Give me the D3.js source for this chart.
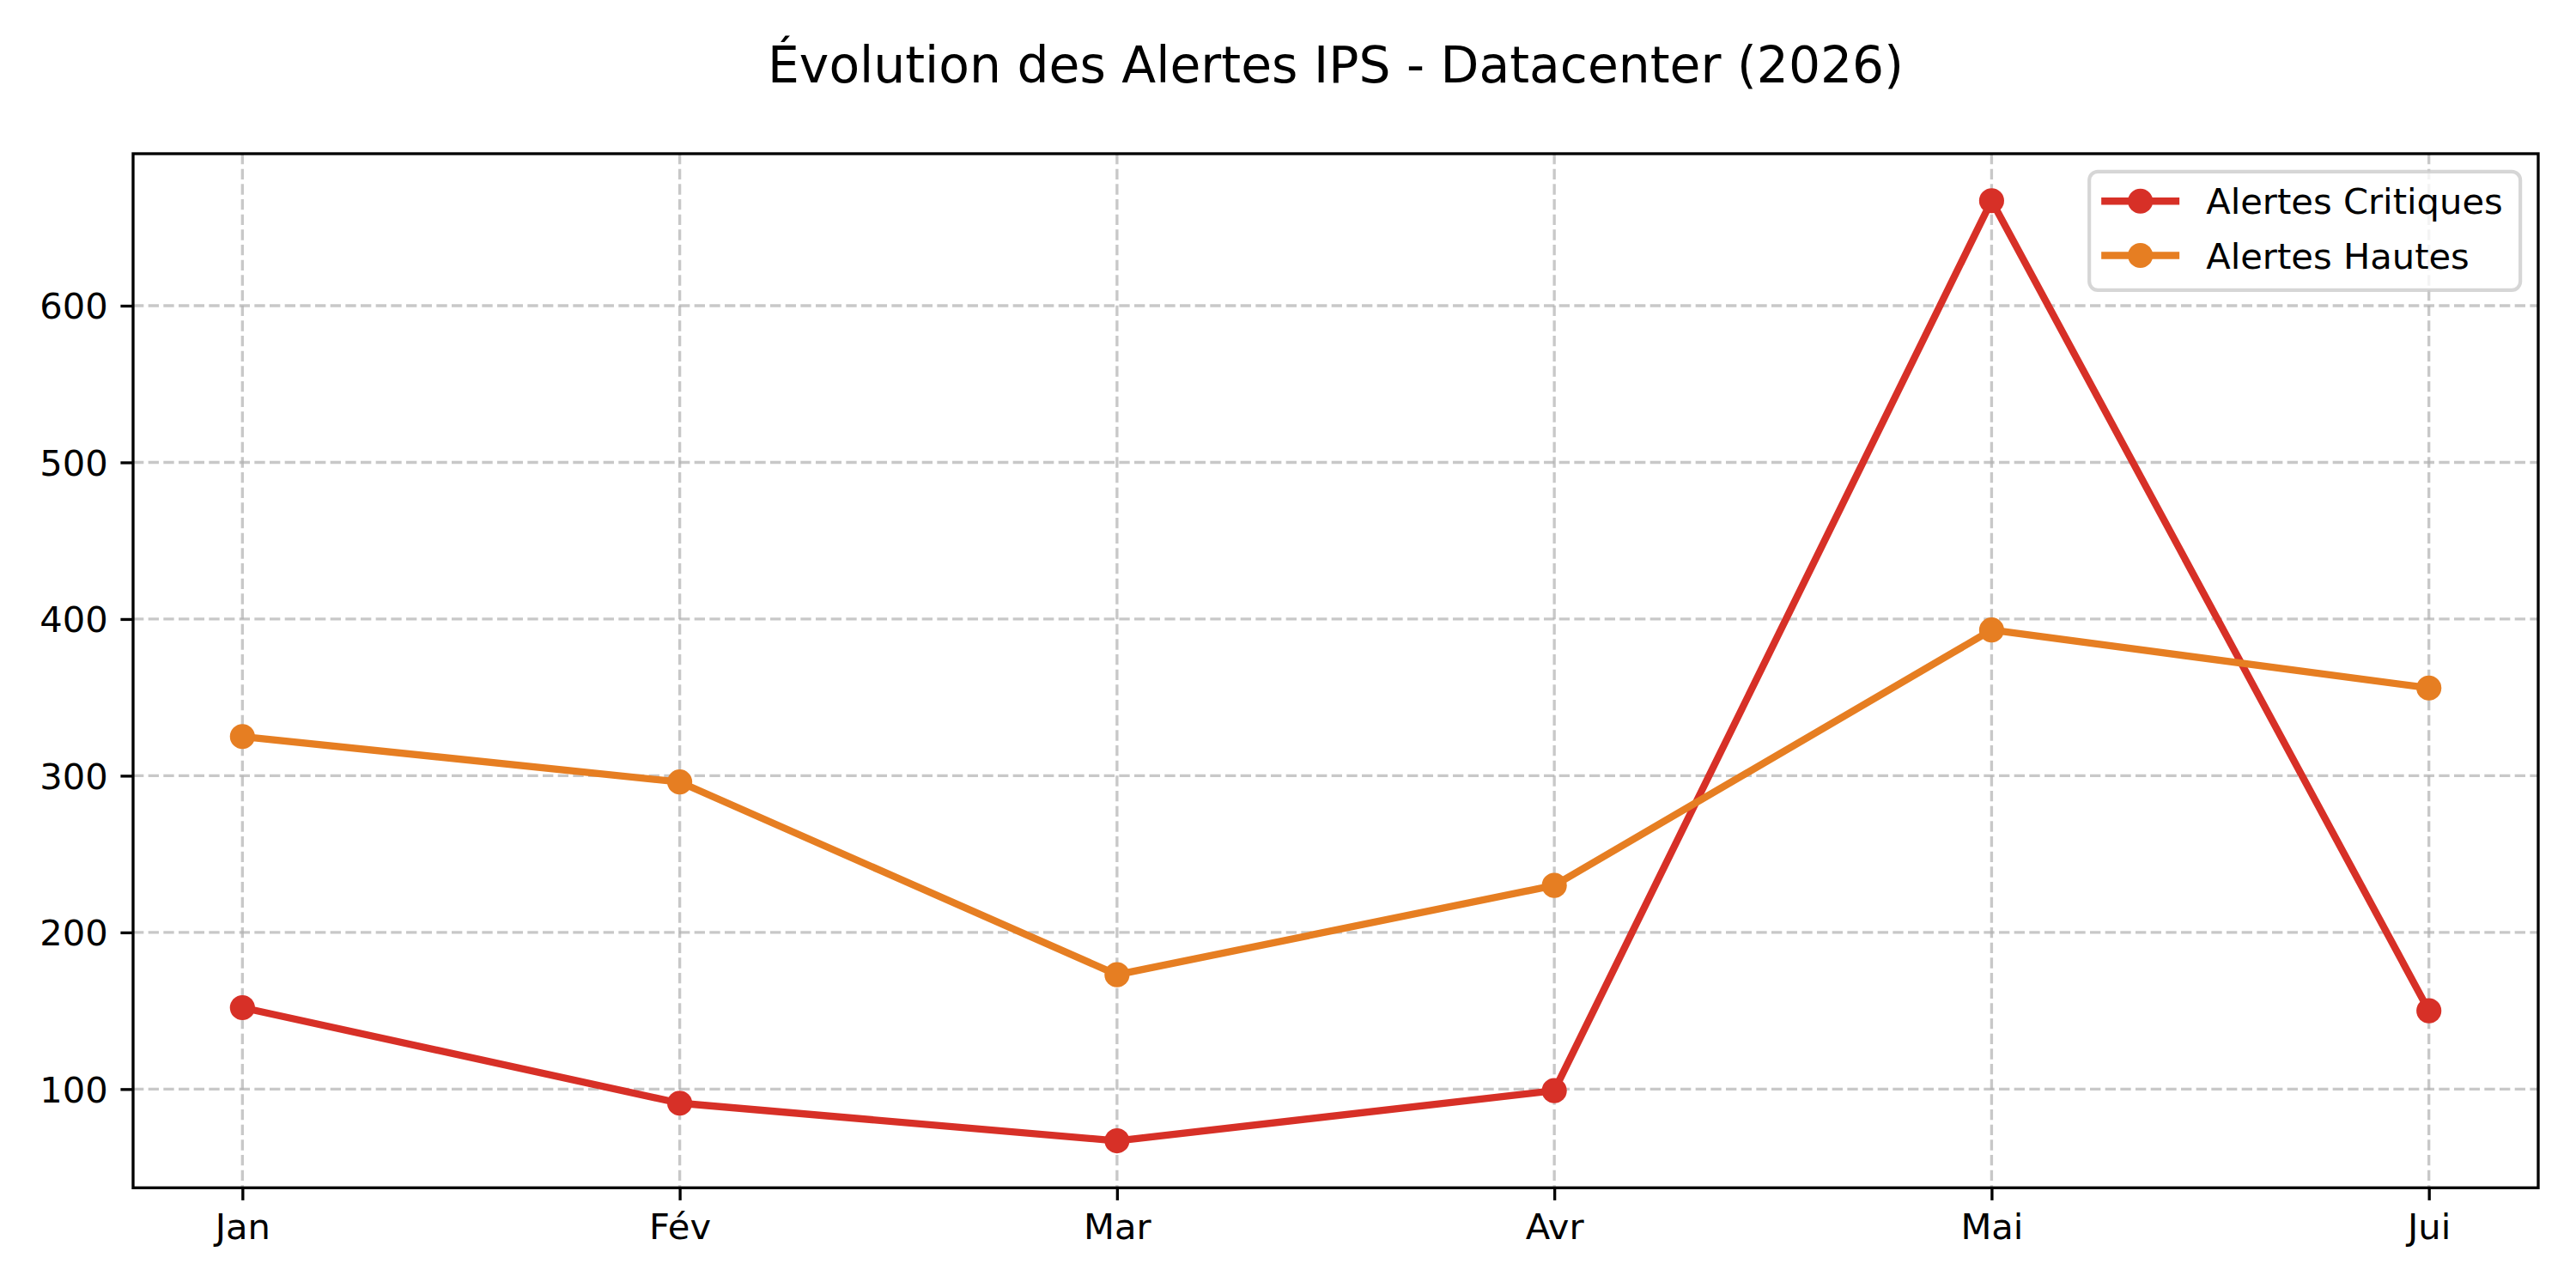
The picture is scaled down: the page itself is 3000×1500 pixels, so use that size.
<!DOCTYPE html>
<html>
<head>
<meta charset="utf-8">
<script src="https://cdn.jsdelivr.net/npm/d3@7"></script>
<style>
  body { margin: 0; background: #fff; }
  svg { display: block; font-family: "DejaVu Sans", sans-serif; }
</style>
</head>
<body>
<svg id="chart" width="3000" height="1500"></svg>
<script>
// data
const months = ["Jan", "Fév", "Mar", "Avr", "Mai", "Jui"];
const critiques = [152, 91, 67, 99, 667, 150];
const hautes = [325, 296, 173, 230, 393, 356];
const yTicks = [100, 200, 300, 400, 500, 600];
const seriesNames = ["Alertes Critiques", "Alertes Hautes"];
const seriesColors = ["#d73027", "#e67e22"];

const pt = 300 / 72; // figure drawn at 300 dpi
const svg = d3.select('#chart');
const plotLeft = 155, plotRight = 2956, plotTop = 179, plotBottom = 1383.3;

const x = d3.scalePoint()
    .domain(months)
    .range([plotLeft, plotRight])
    .padding(0.25);

const all = critiques.concat(hautes);
const lo = d3.min(all), hi = d3.max(all);
const pad = (hi - lo) * 0.05;
const y = d3.scaleLinear()
    .domain([lo - pad, hi + pad])
    .range([plotBottom, plotTop]);

// title
svg.append("text")
    .attr("x", (plotLeft + plotRight) / 2)
    .attr("y", plotTop - 20 * pt)
    .attr("text-anchor", "middle")
    .style("font-size", (14 * pt) + "px")
    .text("Évolution des Alertes IPS - Datacenter (2026)");

// grid
const grid = svg.append("g")
    .attr("stroke", "#b0b0b0")
    .attr("stroke-opacity", 0.7)
    .attr("stroke-width", 0.8 * pt)
    .attr("stroke-dasharray", `${3.7 * 0.8 * pt} ${1.6 * 0.8 * pt}`);
grid.selectAll("line.v")
    .data(months)
    .join("line")
    .attr("class", "v")
    .attr("x1", d => x(d)).attr("x2", d => x(d))
    .attr("y1", plotTop).attr("y2", plotBottom);
grid.selectAll("line.h")
    .data(yTicks)
    .join("line")
    .attr("class", "h")
    .attr("x1", plotLeft).attr("x2", plotRight)
    .attr("y1", d => y(d)).attr("y2", d => y(d));

// axes
const xAxis = svg.append("g")
    .attr("transform", `translate(0,${plotBottom})`)
    .call(d3.axisBottom(x).tickSize(3.5 * pt).tickSizeOuter(0).tickPadding(15.4));
const yAxis = svg.append("g")
    .attr("transform", `translate(${plotLeft},0)`)
    .call(d3.axisLeft(y).tickValues(yTicks).tickSize(3.5 * pt).tickSizeOuter(0).tickPadding(3.5 * pt));
[xAxis, yAxis].forEach(a => {
    a.select(".domain").remove();
    a.selectAll(".tick line").attr("stroke", "#000").attr("stroke-width", 0.8 * pt);
    a.selectAll(".tick text")
        .attr("fill", "#000")
        .style("font-family", "DejaVu Sans")
        .style("font-size", (10 * pt) + "px");
});
yAxis.selectAll(".tick text").attr("dy", "0.36em");

// series
const series = [critiques, hautes];
const line = d3.line()
    .x((d, i) => x(months[i]))
    .y(d => y(d));

series.forEach((vals, k) => {
    const g = svg.append("g");
    g.append("path")
        .datum(vals)
        .attr("d", line)
        .attr("fill", "none")
        .attr("stroke", seriesColors[k])
        .attr("stroke-width", 2 * pt)
        .attr("stroke-linejoin", "round")
        .attr("stroke-linecap", "butt");
    g.selectAll("circle")
        .data(vals)
        .join("circle")
        .attr("cx", (d, i) => x(months[i]))
        .attr("cy", d => y(d))
        .attr("r", 3.5 * pt)
        .attr("fill", seriesColors[k]);
});

// spines
svg.append("rect")
    .attr("x", plotLeft).attr("y", plotTop)
    .attr("width", plotRight - plotLeft).attr("height", plotBottom - plotTop)
    .attr("fill", "none")
    .attr("stroke", "#000")
    .attr("stroke-width", 0.8 * pt);

// legend
const lgW = 502, lgH = 138;
const lgX = plotRight - 5 * pt - lgW, lgY = plotTop + 5 * pt;
const legend = svg.append("g").attr("transform", `translate(${lgX},${lgY})`);
legend.append("rect")
    .attr("width", lgW).attr("height", lgH)
    .attr("rx", 10).attr("ry", 10)
    .attr("fill", "#fff").attr("fill-opacity", 0.8)
    .attr("stroke", "#cccccc").attr("stroke-opacity", 0.8)
    .attr("stroke-width", 1 * pt);
const rows = legend.selectAll("g.row")
    .data(seriesNames)
    .join("g")
    .attr("class", "row")
    .attr("transform", (d, i) => `translate(0,${34.4 + i * 63.3})`);
rows.append("line")
    .attr("x1", 14).attr("x2", 105)
    .attr("stroke", (d, i) => seriesColors[i])
    .attr("stroke-width", 2 * pt);
rows.append("circle")
    .attr("cx", 59.5).attr("r", 3.5 * pt)
    .attr("fill", (d, i) => seriesColors[i]);
rows.append("text")
    .attr("x", 136)
    .attr("dy", "0.36em")
    .style("font-size", (10 * pt) + "px")
    .text(d => d);
</script>
</body>
</html>
